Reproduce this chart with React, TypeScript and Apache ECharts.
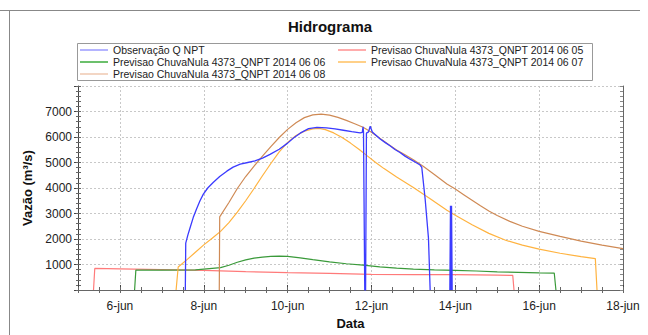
import React, { useEffect, useRef } from "react";
import * as echarts from "echarts";

// x = day of June 2014 (decimal), y = discharge (m³/s)
const obsData: (number | string)[][] = [
  [7.56, 0], [7.57, 1840], [7.62, 2150], [7.67, 2420], [7.75, 2850], [7.83, 3190],
  [7.91, 3500], [7.99, 3760], [8.1, 4010], [8.23, 4225], [8.38, 4450], [8.55, 4660],
  [8.7, 4820], [8.87, 4935], [9.05, 5000], [9.22, 5060], [9.4, 5170], [9.58, 5320],
  [9.8, 5520], [10.0, 5760], [10.14, 5960], [10.3, 6150], [10.5, 6330], [10.7, 6380],
  [10.93, 6355], [11.13, 6320], [11.33, 6265], [11.53, 6210], [11.73, 6160], [11.78, 6180],
  [11.80, 6400], [11.81, 6200], [11.84, 0], [11.86, 0], [11.88, 6150], [11.93, 6200],
  [11.97, 6420], [12.02, 6200], [12.1, 6080], [12.2, 5930], [12.33, 5780], [12.45, 5645],
  [12.56, 5510], [12.68, 5390], [12.8, 5250], [12.92, 5130], [13.05, 5010], [13.16, 4900],
  [13.2, 4810], [13.28, 3580], [13.36, 2030], [13.40, 0], [13.6, "-"], [13.87, 0],
  [13.885, 3300], [13.9, 0], [13.91, 3300], [13.925, 0],
];
const prev0605: number[][] = [
  [5.37, 0], [5.40, 845], [6.0, 830], [7.0, 800], [8.0, 770], [9.0, 720], [10.0, 680],
  [11.0, 650], [12.0, 610], [13.0, 600], [14.0, 600], [15.0, 580], [15.37, 575], [15.40, 0],
];
const prev0606: number[][] = [
  [6.35, 0], [6.38, 780], [7.0, 780], [7.8, 790], [8.0, 820], [8.2, 850], [8.4, 880],
  [8.6, 970], [8.8, 1090], [9.0, 1180], [9.2, 1250], [9.4, 1290], [9.6, 1315], [9.8, 1330],
  [10.0, 1315], [10.3, 1260], [10.6, 1190], [11.0, 1100], [11.4, 1030], [11.8, 975],
  [12.2, 910], [12.6, 860], [13.0, 820], [13.5, 790], [14.0, 770], [14.5, 745], [15.0, 710],
  [15.5, 690], [16.0, 675], [16.36, 665], [16.40, 0],
];
const prev0607: number[][] = [
  [7.34, 0], [7.39, 900], [7.6, 1190], [7.8, 1480], [8.0, 1770], [8.2, 2030], [8.4, 2300],
  [8.6, 2640], [8.8, 3050], [9.0, 3500], [9.2, 3980], [9.4, 4480], [9.6, 4960], [9.8, 5420],
  [10.0, 5790], [10.2, 6060], [10.4, 6230], [10.6, 6320], [10.75, 6335], [10.9, 6290],
  [11.1, 6160], [11.3, 5980], [11.5, 5760], [11.7, 5520], [11.9, 5260], [12.1, 5000],
  [12.3, 4760], [12.6, 4430], [13.0, 4020], [13.4, 3580], [13.8, 3130], [14.0, 2930],
  [14.4, 2560], [14.8, 2220], [15.2, 1950], [15.6, 1760], [16.0, 1600], [16.5, 1440],
  [17.0, 1310], [17.34, 1230], [17.38, 0],
];
const prev0608: number[][] = [
  [8.37, 0], [8.38, 2870], [8.6, 3430], [8.8, 3980], [9.0, 4450], [9.2, 4860], [9.4, 5250],
  [9.6, 5620], [9.8, 5980], [10.0, 6300], [10.2, 6560], [10.4, 6760], [10.6, 6870],
  [10.8, 6900], [11.0, 6860], [11.2, 6770], [11.4, 6650], [11.6, 6520], [11.8, 6380],
  [12.0, 6190], [12.2, 5950], [12.4, 5720], [12.6, 5490], [12.8, 5300], [13.0, 5110],
  [13.25, 4830], [13.5, 4530], [13.8, 4160], [14.0, 3960], [14.2, 3740], [14.4, 3520],
  [14.6, 3300], [14.8, 3100], [15.0, 2920], [15.3, 2690], [15.6, 2500], [16.0, 2300],
  [16.5, 2100], [17.0, 1920], [17.5, 1760], [18.0, 1620],
];

const seriesNames = [
  "Observação Q NPT",
  "Previsao ChuvaNula 4373_QNPT 2014 06 05",
  "Previsao ChuvaNula 4373_QNPT 2014 06 06",
  "Previsao ChuvaNula 4373_QNPT 2014 06 07",
  "Previsao ChuvaNula 4373_QNPT 2014 06 08",
];
const seriesData = [obsData, prev0605, prev0606, prev0607, prev0608];
const lineColors = ["#3b3bff", "#ff7a7a", "#3a9a3a", "#ffb340", "#cf8a55"];
const legendColors = ["#b4b4ff", "#ffacac", "#6cc06c", "#ffd088", "#f3d6c4"];
// legend layout: column x of icon start and row of each series
const legendCols = [80, 338, 80, 338, 80];
const legendRows = [0, 0, 1, 1, 2];

const FONT = "'Liberation Sans', Arial, sans-serif";

export default function App() {
  const ref = useRef<HTMLDivElement>(null);
  useEffect(() => {
    if (!ref.current) return;
    const chart = echarts.init(ref.current, null, { renderer: "svg" });
    const grid = { left: 78, right: 25, top: 86, bottom: 42 };
    const legendTop = 44;
    const rowH = 12;
    const iconW = 28;
    const legendCommon = {
      orient: "vertical" as const,
      top: legendTop,
      padding: 0,
      itemGap: 0,
      itemWidth: 0,
      itemHeight: 2,
      icon: "none",
      selectedMode: false,
      textStyle: { fontSize: 10.5, lineHeight: rowH, color: "#222", fontFamily: FONT },
    };
    const legendIcons = seriesNames.map((_, i) => ({
      type: "line",
      shape: {
        x1: legendCols[i],
        y1: legendTop + rowH / 2 + legendRows[i] * rowH,
        x2: legendCols[i] + iconW,
        y2: legendTop + rowH / 2 + legendRows[i] * rowH,
      },
      style: { stroke: legendColors[i], lineWidth: 2 },
    }));
    chart.setOption({
      animation: false,
      backgroundColor: "#fff",
      title: {
        text: "Hidrograma",
        left: 330,
        textAlign: "center",
        top: 19,
        padding: 0,
        textStyle: { fontSize: 15, fontWeight: "bold", color: "#111", fontFamily: FONT },
      },
      legend: [
        { ...legendCommon, left: 80 + iconW, data: [seriesNames[0], seriesNames[2], seriesNames[4]] },
        { ...legendCommon, left: 338 + iconW, data: [seriesNames[1], seriesNames[3]] },
      ],
      graphic: [
        { type: "line", shape: { x1: 0, y1: 10.5, x2: 640, y2: 10.5 }, style: { stroke: "#888", lineWidth: 1 } },
        { type: "line", shape: { x1: 9.5, y1: 10, x2: 9.5, y2: 335 }, style: { stroke: "#888", lineWidth: 1 } },
        {
          type: "rect",
          shape: { x: 77.5, y: 43.5, width: 515, height: 37 },
          style: { fill: "none", stroke: "#999", lineWidth: 1 },
        },
        ...legendIcons,
      ],
      grid,
      xAxis: [
        {
          type: "value",
          min: 5,
          max: 18,
          minInterval: 2,
          maxInterval: 2,
          position: "bottom",
          axisLine: { show: true, lineStyle: { color: "#444" } },
          axisTick: { show: true, inside: true, length: 5, lineStyle: { color: "#444" } },
          axisLabel: {
            formatter: (v: number) => (v === 5 ? "" : `${v}-jun`),
            fontSize: 12,
            color: "#222",
            fontFamily: FONT,
            margin: 10,
          },
          splitLine: { show: true, lineStyle: { color: "#c8c8c8", type: [2, 2] } },
          name: "Data",
          nameLocation: "middle",
          nameGap: 27,
          nameTextStyle: { fontSize: 13, fontWeight: "bold", color: "#111", fontFamily: FONT },
        },
        {
          type: "value",
          min: 5,
          max: 18,
          interval: 0.5,
          position: "bottom",
          axisLine: { show: false },
          axisTick: { show: true, inside: true, length: 3, lineStyle: { color: "#666" } },
          axisLabel: { show: false },
          splitLine: { show: false },
        },
        {
          type: "value",
          min: 5,
          max: 18,
          interval: 0.5,
          position: "top",
          axisLine: { show: true, lineStyle: { color: "#666" } },
          axisTick: { show: true, inside: true, length: 3, lineStyle: { color: "#666" } },
          axisLabel: { show: false },
          splitLine: { show: false },
        },
      ],
      yAxis: [
        {
          type: "value",
          min: 0,
          max: 8000,
          interval: 1000,
          position: "left",
          axisLine: { show: true, lineStyle: { color: "#444" } },
          axisTick: { show: true, length: 4, lineStyle: { color: "#444" } },
          axisLabel: {
            formatter: (v: number) => (v === 0 || v === 8000 ? "" : String(v)),
            fontSize: 12,
            color: "#222",
            fontFamily: FONT,
            margin: 6,
          },
          splitLine: { show: true, lineStyle: { color: "#c8c8c8", type: [2, 2] } },
          name: "Vazão (m³/s)",
          nameLocation: "middle",
          nameGap: 44,
          nameTextStyle: { fontSize: 13, fontWeight: "bold", color: "#111", fontFamily: FONT },
        },
        {
          type: "value",
          min: 0,
          max: 8000,
          interval: 200,
          position: "left",
          axisLine: { show: false },
          axisTick: { show: true, inside: true, length: 3, lineStyle: { color: "#666" } },
          axisLabel: { show: false },
          splitLine: { show: false },
        },
        {
          type: "value",
          min: 0,
          max: 8000,
          interval: 200,
          position: "left",
          axisLine: { show: false },
          axisTick: { show: true, inside: false, length: 2, lineStyle: { color: "#666" } },
          axisLabel: { show: false },
          splitLine: { show: false },
        },
        {
          type: "value",
          min: 0,
          max: 8000,
          interval: 200,
          position: "right",
          axisLine: { show: true, lineStyle: { color: "#666" } },
          axisTick: { show: true, inside: true, length: 3, lineStyle: { color: "#888" } },
          axisLabel: { show: false },
          splitLine: { show: false },
        },
      ],
      series: seriesData.map((d, i) => ({
        name: seriesNames[i],
        type: "line",
        xAxisIndex: 0,
        yAxisIndex: 0,
        data: d,
        showSymbol: false,
        symbol: "none",
        connectNulls: false,
        color: lineColors[i],
        lineStyle: { color: lineColors[i], width: i === 0 ? 1.3 : 1.2 },
        z: i === 0 ? 5 : 3,
      })),
    });
    return () => chart.dispose();
  }, []);
  return (
    <div
      ref={ref}
      style={{ position: "fixed", left: 0, top: 0, width: 648, height: 335 }}
    />
  );
}
